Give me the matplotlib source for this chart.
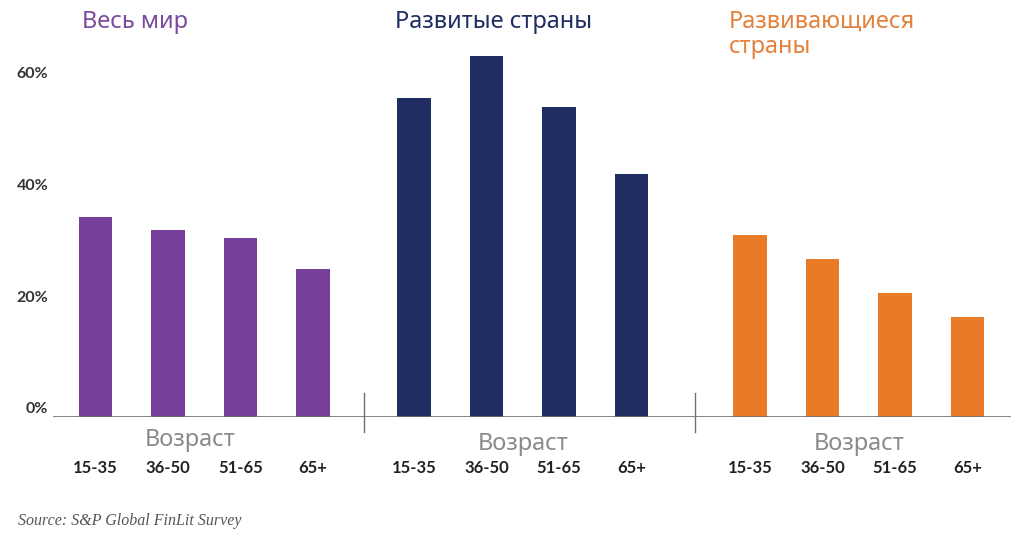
import numpy as np
import matplotlib.pyplot as plt

ages = ['15-35', '36-50', '51-65', '65+']
world = [35.8, 33.6, 32.0, 26.5]
developed = [57.2, 64.7, 55.5, 43.5]
developing = [32.6, 28.4, 22.2, 17.9]

titles = ['Весь мир', 'Развитые страны', 'Развивающиеся\nстраны']
colors = ['#76409a', '#1f2d63', '#e87a28']
title_colors = ['#7b4a9e', '#1f2d63', '#e3803a']
group_start = [0, 4.39, 9.02]
separators = [3.70, 8.27]
yticks = [0, 20, 40, 60]

fig = plt.figure(figsize=(10.24, 5.36), dpi=100)
ax = fig.add_axes([53/1024, (536-417)/536, (1011-53)/1024, 377/536])
ax.set_xlim(-0.586, 12.62)
ax.set_ylim(0, 67.56)

for i, vals in enumerate([world, developed, developing]):
    x = group_start[i] + np.arange(len(ages))
    ax.bar(x, vals, width=0.46, color=colors[i], zorder=2)
    for xx, lab in zip(x, ages):
        ax.text(xx, -9.2, lab, ha='center', va='center', fontsize=12,
                fontweight='bold', color='#222222', family='Lato')
    cx = group_start[i] + 1.5 if i else 1.3
    ax.text(cx, -4.2 if i == 0 else -4.9, 'Возраст', ha='center', va='center',
            fontsize=17, color='#8a8a8a', family='Noto Sans')

ax.axhline(0, color='#707070', lw=1.2, zorder=3)
for s in separators:
    ax.plot([s, s], [-2.7, 4.3], color='#707070', lw=1, clip_on=False)

for v in yticks:
    ax.text(-0.65, v + 1.4, f'{v}%', ha='right', va='center', fontsize=11.5,
            fontweight='bold', color='#333333', family='Lato')

for sp in ax.spines.values():
    sp.set_visible(False)
ax.set_xticks([])
ax.set_yticks([])

title_x = [82, 395, 729]
for t, c, tx in zip(titles, title_colors, title_x):
    fig.text(tx/1024, 1 - 10/536, t, ha='left', va='top', fontsize=17,
             color=c, family='Noto Sans', fontweight='medium', linespacing=1.05)

fig.text(18/1024, 1 - 521/536, 'Source: S&P Global FinLit Survey', ha='left',
         va='center', fontsize=11.5, style='italic', color='#555555',
         family='Liberation Serif')

fig.savefig('out.png', dpi=100)
